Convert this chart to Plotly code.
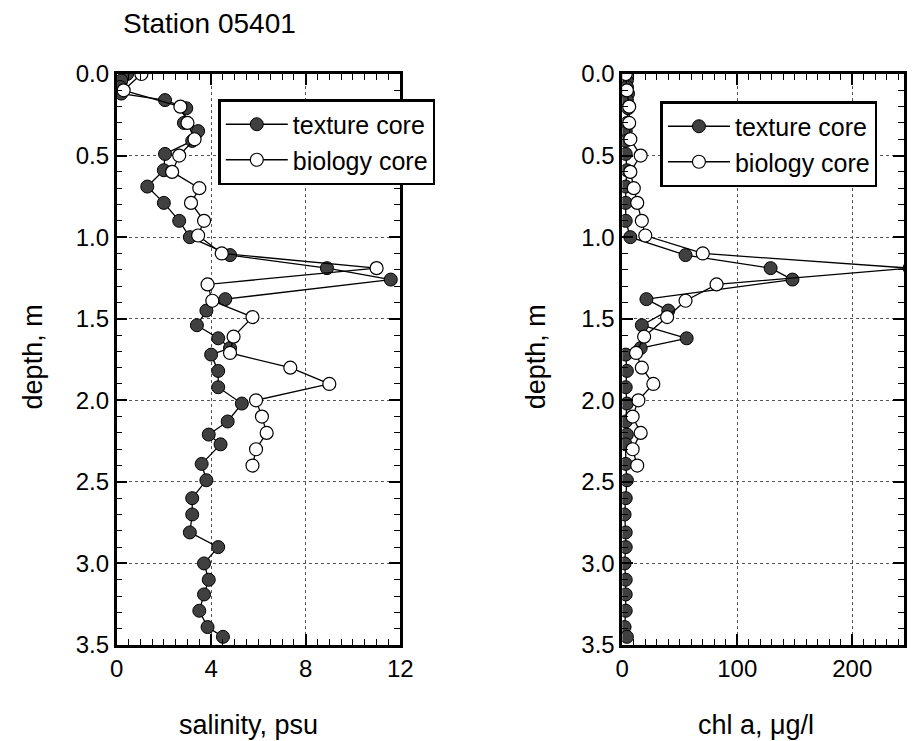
import plotly.graph_objects as go

# ---------------- data ----------------
tex_depth = [0.0, 0.04, 0.08, 0.12, 0.16, 0.21, 0.30, 0.35, 0.41, 0.49, 0.59, 0.69, 0.79, 0.90,
             1.00, 1.11, 1.19, 1.26, 1.38, 1.45, 1.54, 1.62, 1.68, 1.72, 1.82, 1.92, 2.02, 2.13,
             2.21, 2.27, 2.39, 2.49, 2.60, 2.70, 2.81, 2.90, 3.00, 3.10, 3.19, 3.29, 3.39, 3.45]
tex_salinity = [0.45, 0.2, 0.15, 0.2, 2.05, 2.95, 2.85, 3.45, 3.2, 2.05, 2.0, 1.3, 2.0, 2.65,
                3.1, 4.8, 8.9, 11.6, 4.6, 3.8, 3.4, 4.3, 4.8, 4.0, 4.3, 4.3, 5.3, 4.7,
                3.9, 4.4, 3.6, 3.8, 3.2, 3.2, 3.1, 4.3, 3.7, 3.9, 3.7, 3.5, 3.85, 4.5]
tex_chl = [3, 4, 4, 5, 4, 5, 4, 3, 3, 3, 4, 3, 3, 3,
           7, 55, 129, 148, 21, 40, 17, 56, 16, 3, 4, 3, 4, 3,
           4, 3, 3, 4, 3, 2, 3, 3, 2, 3, 3, 3, 2, 4]

bio_depth = [0.0, 0.1, 0.2, 0.3, 0.4, 0.5, 0.6, 0.7, 0.79, 0.9, 0.99, 1.1, 1.19, 1.29, 1.39,
             1.49, 1.61, 1.71, 1.8, 1.9, 2.0, 2.1, 2.2, 2.3, 2.4]
bio_salinity = [1.05, 0.3, 2.7, 3.0, 3.3, 2.65, 2.35, 3.5, 3.15, 3.7, 3.45, 4.45, 11.0, 3.85, 4.05,
                5.75, 4.95, 4.8, 7.35, 9.0, 5.9, 6.15, 6.35, 5.9, 5.75]
bio_chl = [3, 4, 6, 6, 7, 16, 7, 10, 13, 17, 20, 70, 250, 82, 55,
           39, 19, 12, 17, 27, 14, 9, 16, 9, 13]

series_names = ["texture core", "biology core"]
title_text = "Station 05401"
x_titles = ["salinity, psu", "chl a, \u03bcg/l"]
y_title = "depth, m"

# ---------------- styling ----------------
W, H = 917, 741
MT, MB = 74, 96
PH = H - MT - MB
FONT = "Liberation Sans, Arial, Helvetica, sans-serif"

def px_x(p):
    return p / W

def px_y(p):
    return (H - MB - p) / PH

filled = dict(symbol="circle", size=13, color="#404040", line=dict(color="black", width=1))
hollow = dict(symbol="circle", size=13, color="white", line=dict(color="black", width=1.2))
line_style = dict(color="black", width=1.3)

fig = go.Figure()
fig.add_trace(go.Scatter(x=tex_salinity, y=tex_depth, mode="lines+markers", name=series_names[0],
                         marker=filled, line=line_style, xaxis="x", yaxis="y", legend="legend"))
fig.add_trace(go.Scatter(x=bio_salinity, y=bio_depth, mode="lines+markers", name=series_names[1],
                         marker=hollow, line=line_style, xaxis="x", yaxis="y", legend="legend"))
fig.add_trace(go.Scatter(x=tex_chl, y=tex_depth, mode="lines+markers", name=series_names[0],
                         marker=filled, line=line_style, xaxis="x2", yaxis="y2", legend="legend2"))
fig.add_trace(go.Scatter(x=bio_chl, y=bio_depth, mode="lines+markers", name=series_names[1],
                         marker=hollow, line=line_style, xaxis="x2", yaxis="y2", legend="legend2"))

common = dict(showline=True, linewidth=2.5, linecolor="black", mirror="ticks",
              ticks="inside", ticklen=11, tickwidth=1.5, tickcolor="black",
              showgrid=True, gridcolor="#555", gridwidth=1, griddash="dot",
              zeroline=False, tickfont=dict(family=FONT, size=24, color="black"))

legend_common = dict(xanchor="left", yanchor="top", bgcolor="white", bordercolor="black",
                     borderwidth=2.5, itemwidth=62,
                     font=dict(family=FONT, size=25, color="black"), tracegroupgap=0)

fig.update_layout(
    width=W, height=H,
    margin=dict(l=0, r=0, t=MT, b=MB),
    paper_bgcolor="white", plot_bgcolor="white",
    showlegend=True,
    xaxis=dict(domain=[px_x(112), px_x(402)], range=[0, 12], tickvals=[0, 4, 8, 12],
               minor=dict(ticks="inside", ticklen=6, dtick=0.5, tickcolor="black", tickwidth=1.2, showgrid=False),
               anchor="y", **common),
    yaxis=dict(domain=[0, 1], range=[3.5, 0], dtick=0.5, tickformat=".1f",
               minor=dict(ticks="inside", ticklen=6, dtick=0.1, tickcolor="black", tickwidth=1.2, showgrid=False),
               anchor="x", **common),
    xaxis2=dict(domain=[px_x(629), 1.0], range=[0, 245], tickvals=[0, 100, 200],
                minor=dict(ticks="inside", ticklen=6, dtick=10, tickcolor="black", tickwidth=1.2, showgrid=False),
                anchor="y2", **common),
    yaxis2=dict(domain=[0, 1], range=[3.5, 0], dtick=0.5, tickformat=".1f",
                minor=dict(ticks="inside", ticklen=6, dtick=0.1, tickcolor="black", tickwidth=1.2, showgrid=False),
                anchor="x2", **common),
    legend=dict(x=px_x(216), y=px_y(99), **legend_common),
    legend2=dict(x=px_x(668), y=px_y(101), **legend_common),
)

fig.add_annotation(text=title_text, x=px_x(117), y=px_y(23), xref="paper", yref="paper",
                   xanchor="left", yanchor="middle", showarrow=False,
                   font=dict(family=FONT, size=28, color="black"))
axis_title_font = dict(family=FONT, size=27, color="black")
fig.add_annotation(text=y_title, x=px_x(27), y=px_y(357), xref="paper", yref="paper",
                   textangle=-90, xanchor="center", yanchor="middle", showarrow=False, font=axis_title_font)
fig.add_annotation(text=y_title, x=px_x(541), y=px_y(357), xref="paper", yref="paper",
                   textangle=-90, xanchor="center", yanchor="middle", showarrow=False, font=axis_title_font)
fig.add_annotation(text=x_titles[0], x=px_x(247), y=px_y(725), xref="paper", yref="paper",
                   xanchor="center", yanchor="middle", showarrow=False, font=axis_title_font)
fig.add_annotation(text=x_titles[1], x=px_x(766), y=px_y(725), xref="paper", yref="paper",
                   xanchor="center", yanchor="middle", showarrow=False, font=axis_title_font)

fig.write_html("out.html")
